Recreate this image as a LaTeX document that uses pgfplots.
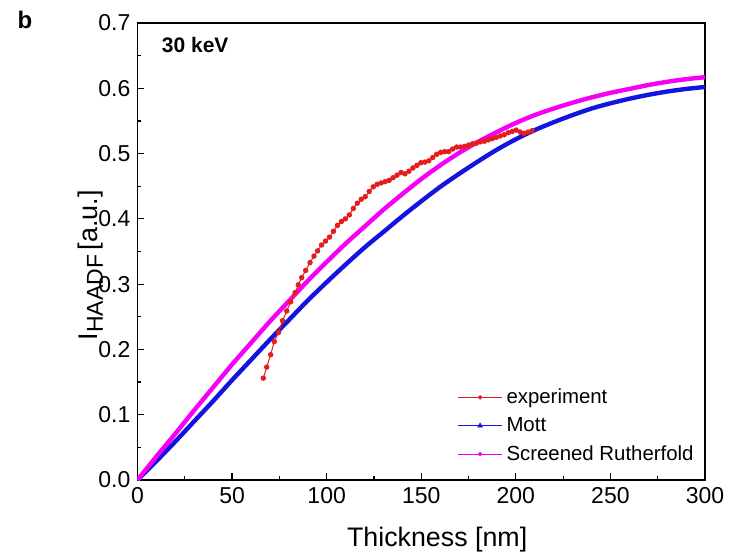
\documentclass[border=0pt]{standalone}
\usepackage{pgfplots}
\pgfplotsset{compat=1.18}
\usepackage{fontspec}
\setmainfont{Liberation Sans}
\definecolor{expRed}{RGB}{228,30,30}
\definecolor{mottBlue}{RGB}{20,20,225}
\definecolor{rutherMag}{RGB}{245,0,245}

\begin{document}
\begin{tikzpicture}
\begin{axis}[
    scale only axis,
    width=283.75pt, height=228.5pt,
    xmin=0, xmax=300, ymin=0, ymax=0.7,
    xtick={0,50,...,300},
    ytick={0,0.1,...,0.7},
    minor x tick num=1, minor y tick num=1,
    tick align=inside,
    xtick pos=lower, ytick pos=left,
    major tick length=3.5pt, minor tick length=2pt,
    tick style={black, line width=0.6pt},
    axis line style={line width=0.8pt},
    /pgf/number format/assume math mode=true,
    yticklabel style={/pgf/number format/fixed, /pgf/number format/fixed zerofill, /pgf/number format/precision=1},
    ticklabel style={font=\fontsize{11.5}{13}\selectfont},
    xlabel={Thickness [nm]},
    ylabel={I\raisebox{-0.35ex}{\fontsize{11.5}{13}\selectfont HAADF}\,[a.u.]},
    xlabel style={font=\fontsize{13.4}{15}\selectfont, at={(axis description cs:0.528,-0.131)}, anchor=center},
    ylabel style={font=\fontsize{13.5}{15}\selectfont, at={(axis description cs:-0.082,0.47)}, anchor=center},
    legend style={at={(axis cs:168,0.150)}, anchor=north west, draw=none, fill=none,
        font=\fontsize{10.2}{12}\selectfont, row sep=1.5pt, inner sep=1pt},
    legend cell align=left,
    legend image code/.code={\draw[mark repeat=2,mark phase=2,#1] plot coordinates {(0pt,0pt) (11pt,0pt) (22pt,0pt)};},
]

% Mott
\addplot[mottBlue, line width=2.2pt, smooth, forget plot] coordinates {
    (0,0) (10,0.029) (20,0.059) (30,0.090) (40,0.121) (50,0.153) (60,0.184)
    (70,0.215) (80,0.245) (90,0.275) (100,0.303) (110,0.330) (120,0.356)
    (130,0.380) (140,0.404) (150,0.427) (160,0.449) (170,0.469) (180,0.488)
    (190,0.506) (200,0.522) (210,0.536) (220,0.548) (230,0.559) (240,0.569)
    (250,0.577) (260,0.584) (270,0.590) (280,0.595) (290,0.599) (300,0.602)
};

% Screened Rutherford
\addplot[rutherMag, line width=2.2pt, smooth, forget plot] coordinates {
    (0,0) (10,0.036) (20,0.071) (30,0.107) (40,0.142) (50,0.177) (60,0.210)
    (70,0.243) (80,0.274) (90,0.305) (100,0.334) (110,0.362) (120,0.388)
    (130,0.414) (140,0.438) (150,0.461) (160,0.482) (170,0.501) (180,0.518)
    (190,0.533) (200,0.547) (210,0.559) (220,0.569) (230,0.578) (240,0.586)
    (250,0.593) (260,0.599) (270,0.605) (280,0.610) (290,0.614) (300,0.617)
};

% experiment
\addplot[expRed, line width=0.5pt, mark=*, mark size=1.1pt, forget plot] coordinates {
    (66.5,0.156) (68.3,0.173) (70.4,0.192) (72.3,0.212) (74.6,0.226) (76.7,0.244)
    (78.9,0.259) (81.0,0.273) (83.3,0.287) (85.0,0.299) (86.8,0.310) (88.9,0.321)
    (91.2,0.333) (93.3,0.343) (95.2,0.351) (97.3,0.360) (99.4,0.366) (101.5,0.372)
    (103.6,0.381) (105.7,0.390) (107.8,0.396) (109.9,0.400) (112.0,0.406) (114.1,0.416)
    (116.2,0.424) (118.3,0.430) (120.4,0.434) (122.5,0.442) (124.6,0.449) (126.7,0.453)
    (128.8,0.455) (130.9,0.457) (133.0,0.459) (135.1,0.463) (137.2,0.467) (139.3,0.471)
    (141.4,0.469) (143.5,0.473) (145.6,0.478) (147.7,0.482) (149.8,0.486) (151.9,0.487)
    (154.0,0.489) (156.1,0.494) (158.2,0.499) (160.3,0.502) (162.4,0.503) (164.5,0.503)
    (166.6,0.507) (168.7,0.510) (170.8,0.510) (172.9,0.511) (175.0,0.513) (177.1,0.515)
    (179.2,0.516) (181.3,0.518) (183.4,0.519) (185.5,0.521) (187.6,0.523) (189.7,0.525)
    (191.8,0.527) (193.9,0.529) (196.0,0.532) (198.1,0.534) (200.2,0.536) (202.3,0.533)
    (204.4,0.531) (206.5,0.533) (208.6,0.535)
};

\addlegendimage{expRed, line width=0.4pt, mark=*, mark size=0.9pt}
\addlegendentry{experiment}
\addlegendimage{mottBlue, line width=0.4pt, mark=triangle*, mark size=1.3pt}
\addlegendentry{Mott}
\addlegendimage{rutherMag, line width=0.4pt, mark=*, mark size=0.9pt}
\addlegendentry{Screened Rutherfold}

\node[anchor=west, font=\bfseries\fontsize{10.5}{12}\selectfont] at (axis cs:9.2,0.666) {30 keV};
\end{axis}
\node[font=\bfseries\fontsize{12}{14}\selectfont] at (-56.25pt,230pt) {b};
\pgfresetboundingbox
\path[use as bounding box] (-68.75pt,-39pt) rectangle (303.25pt,240pt);
\end{tikzpicture}
\end{document}
